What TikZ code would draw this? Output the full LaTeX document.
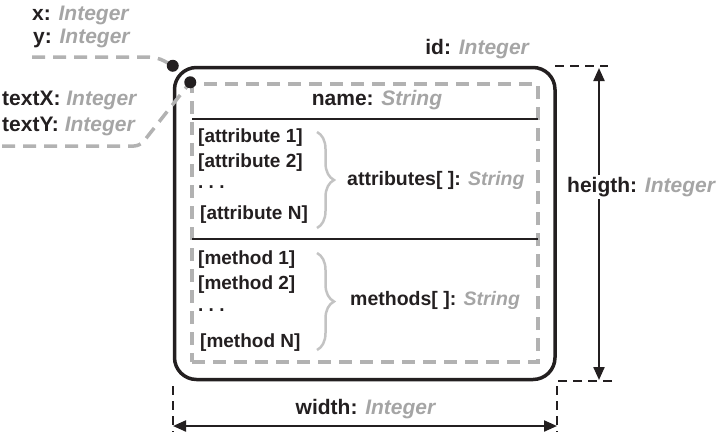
\documentclass[tikz,border=0pt]{standalone}
\usepackage{fontspec}
\setmainfont{Liberation Sans}
\usetikzlibrary{arrows.meta,decorations.pathreplacing}
\definecolor{lgray}{RGB}{165,165,165}
\definecolor{bgray}{RGB}{195,195,195}
\definecolor{dgray}{RGB}{35,31,32}
\newcommand{\field}[2]{\textbf{#1:} \textcolor{lgray}{\textbf{\textit{#2}}}}

\begin{document}
\begin{tikzpicture}[x=1pt,y=-1pt,
  lab/.style={font=\fontsize{21}{24}\selectfont,inner sep=0pt,text=dgray},
  item/.style={font=\fontsize{19}{22}\selectfont\bfseries,inner sep=0pt,anchor=west,text=dgray},
  leader/.style={lgray!85,line width=3.5pt,dash pattern=on 13pt off 8pt},
  ext/.style={dgray,line width=2.5pt,dash pattern=on 9pt off 6pt},
  dot/.style={circle,fill=dgray,inner sep=0pt,minimum size=12pt},
  dimline/.style={dgray,line width=2.2pt,{Triangle[length=13pt,width=11pt]}-{Triangle[length=13pt,width=11pt]}},
  grp/.style={bgray,line width=2.5pt,decorate,decoration={brace,amplitude=17pt}}]

\useasboundingbox (0,0) rectangle (717,432);

% class box and its dashed text area
    \node[draw=dgray,line width=3.5pt,rounded corners=22pt,minimum width=380.5pt,minimum height=312pt,inner sep=0pt] (box) at (364.75,223.5) {};
    \node[draw=lgray!85,line width=3.5pt,dash pattern=on 13pt off 8pt,minimum width=346pt,minimum height=278pt,inner sep=0pt] (area) at (365,223) {};

    \draw[dgray,line width=2.5pt] (192,119) -- (538,119);
    \draw[dgray,line width=2.5pt] (192,239) -- (538,239);

    \node[lab] (name) at (377,100) {\field{name}{String}};

% attributes
    \node[item] (a1) at (198,138) {[attribute 1]};
    \node[item] (a2) at (198,163) {[attribute 2]};
    \node[item] (a3) at (198,187) {.\ .\ .};
    \node[item] (a4) at (200,215) {[attribute N]};
    \draw[grp] (317,132) -- (317,228);
    \node[lab,anchor=west,font=\fontsize{19.5}{22}\selectfont] (attrs) at (347,180) {\field{attributes[ ]}{String}};

% methods
    \node[item] (m1) at (198,260) {[method 1]};
    \node[item] (m2) at (198,285) {[method 2]};
    \node[item] (m3) at (198,310) {.\ .\ .};
    \node[item] (m4) at (200,343) {[method N]};
    \draw[grp] (317,253) -- (317,350);
    \node[lab,anchor=west,font=\fontsize{19.5}{22}\selectfont] (meths) at (350,300) {\field{methods[ ]}{String}};

% position labels
    \node[lab,anchor=west] (xl) at (32,15) {\field{x}{Integer}};
    \node[lab,anchor=west] (yl) at (33,38) {\field{y}{Integer}};
    \node[lab,anchor=west] (txl) at (2,100) {\field{textX}{Integer}};
    \node[lab,anchor=west] (tyl) at (2,126) {\field{textY}{Integer}};
    \node[lab,anchor=east] (idl) at (530,49) {\field{id}{Integer}};

    \draw[leader,rounded corners=8pt] (32,57) -- (157,57) -- (box.north west);
    \draw[leader,rounded corners=6pt] (2,146) -- (140,146) -- (area.north west);

    \node[dot] (pos) at (box.north west) {};
    \node[dot] (tpos) at (area.north west) {};

% dimensions
    \coordinate (ht) at (599,68);
    \coordinate (hb) at (599,380);
    \coordinate (wl) at (173,426);
    \coordinate (wr) at (557,426);

    \draw[ext] (555,66) -- (608,66);
    \draw[ext] (612,381) -- (557,381) -- (557,432);
    \draw[ext] (173,386) -- (173,432);

    \draw[dimline] (ht) to (hb);
    \draw[dimline] (wl) to (wr);

    \node[lab,anchor=west,fill=white,inner ysep=2pt] (hl) at (567,187) {\field{heigth}{Integer}};
    \node[lab] (wlab) at (366,409) {\field{width}{Integer}};

\end{tikzpicture}
\end{document}
